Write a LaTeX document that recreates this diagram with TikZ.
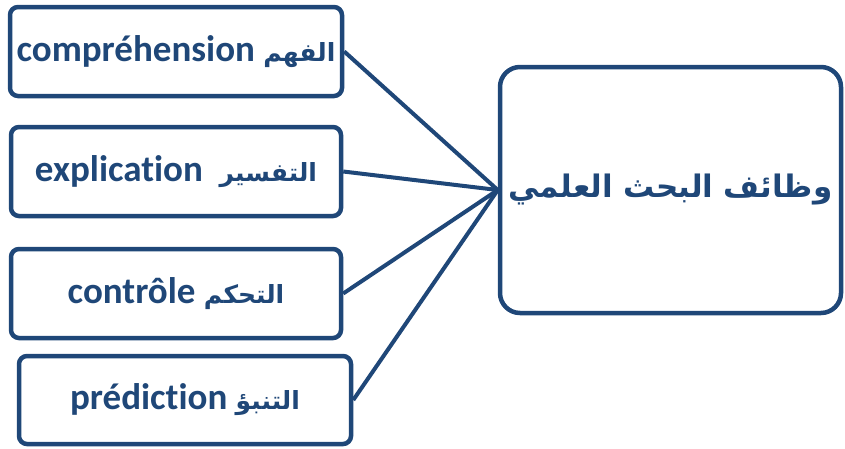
\documentclass[tikz,border=0pt]{standalone}
\usepackage{fontspec}
\setmainfont[Ligatures=NoCommon]{Carlito}
\newfontfamily\arabicfont[Script=Arabic]{DejaVu Sans}
\TeXXeTstate=1
\usepackage{xcolor}
\usepackage{tikz}
\usetikzlibrary{positioning}
\definecolor{navy}{HTML}{1F4778}
\newcommand{\artxt}[1]{{\arabicfont\fontsize{25}{30}\selectfont\beginR #1\endR}}
\tikzset{
  funcbox/.style={draw=navy, line width=4.5pt, rounded corners=8pt, align=center, fill=white, text=navy, inner sep=0pt, font=\bfseries\fontsize{37}{40}\selectfont, minimum width=330pt, minimum height=89pt},
  mainbox/.style={draw=navy, line width=4.5pt, rounded corners=20pt, align=center, fill=white, text=navy, inner sep=0pt, text width=330pt, font=\arabicfont\bfseries\fontsize{31}{36}\selectfont, minimum height=246pt},
  link/.style={draw=navy, line width=4pt}
}

\begin{document}
\begin{tikzpicture}[x=1pt, y=-1pt]
  \useasboundingbox (0,0) rectangle (845,448);

  \node[funcbox, minimum width=332pt] (comp) at (176,51.5) {compréhension \artxt{الفهم}};
  \node[funcbox] (expl) at (176,171.5) {explication\ \ \artxt{التفسير}};
  \node[funcbox] (ctrl) at (176,293.5) {contrôle \artxt{التحكم}};
  \node[funcbox, minimum width=332pt, minimum height=88pt] (pred) at (185,400) {prédiction \artxt{التنبؤ}};
  \node[mainbox, minimum width=341pt] (func) at (670.5,190) {\beginR وظائف البحث العلمي\endR};

  \draw[link] (comp.east) -- (func.west);
  \draw[link] (expl.east) -- (func.west);
  \draw[link] (ctrl.east) -- (func.west);
  \draw[link] (pred.east) -- (func.west);
\end{tikzpicture}
\end{document}
